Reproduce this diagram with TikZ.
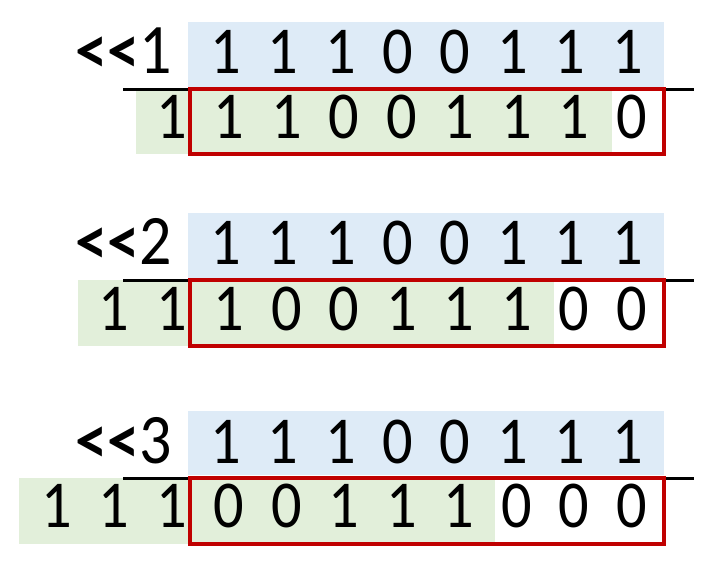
\documentclass[tikz,border=0pt]{standalone}
\usepackage{fontspec}
\setmainfont{Carlito}
\newfontfamily\digitfont[FakeStretch=0.9]{Carlito}
\newfontfamily\labelfont[FakeStretch=0.95]{Carlito Bold}
\definecolor{bluefill}{HTML}{DEEBF7}
\definecolor{greenfill}{HTML}{E2EFDA}
\definecolor{redline}{HTML}{C00000}
\begin{document}
\begin{tikzpicture}[x=1pt,y=-1pt,
  digit/.style={font=\digitfont\fontsize{67}{67}\selectfont, inner sep=0pt, anchor=base},
  shiftlabel/.style={font=\digitfont\fontsize{71}{71}\selectfont, inner sep=0pt, anchor=base east},
  topbox/.style={fill=bluefill},
  resbox/.style={fill=greenfill},
  window/.style={draw=redline, line width=3.3pt},
  rulestyle/.style={draw=black, line width=3pt}]
\useasboundingbox[fill=white] (0,0) rectangle (724,571);
\foreach \k/\bt/\bb/\ly/\rb/\tb/\bbase/\gl in {1/22/87/89/154/73/138/136, 2/213/278/280/346/264/330/78, 3/411/475/478/544/463/527/19} {
  \fill[topbox] (188,\bt) rectangle (664,\bb);
  \fill[resbox] (\gl,\ly) rectangle ({\gl+476},\rb);
  \coordinate (L\k a) at (123,\ly);
  \coordinate (L\k b) at (694,\ly);
  \draw[rulestyle] (L\k a) -- (L\k b);
  \draw[window] (190,\ly) rectangle (664,\rb);
  \node[shiftlabel] (lab\k) at (172,\tb) {{\labelfont\fontsize{68}{68}\selectfont<}{\labelfont\fontsize{68}{68}\selectfont<}\k};
  \foreach \b [count=\i from 0] in {1,1,1,0,0,1,1,1}
    \node[digit] (t\k-\i) at ({225.5+57.4*\i},\tb) {\b};
  \foreach \b [count=\m from 0] in {1,1,1,0,0,1,1,1,0,0,0} {
    \pgfmathtruncatemacro\lim{8+\k}
    \ifnum\m<\lim
      \node[digit] (b\k-\m) at ({229+57.5*(\m-\k)},\bbase) {\b};
    \fi
  }
}
\end{tikzpicture}
\end{document}
